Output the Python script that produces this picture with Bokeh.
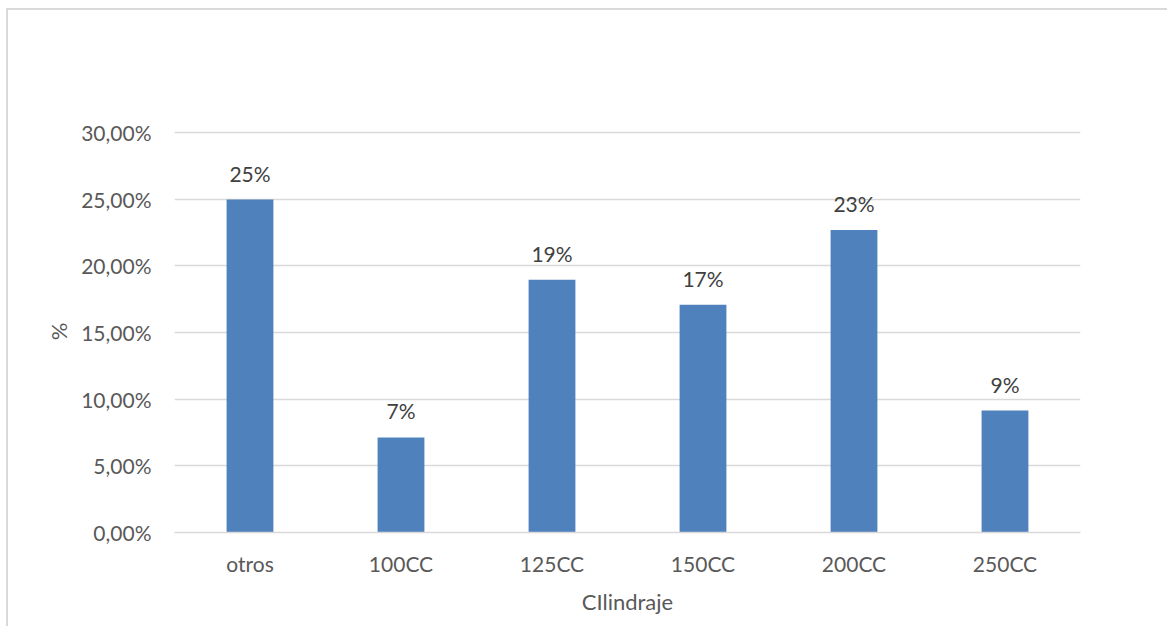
from bokeh.plotting import figure
from bokeh.models import ColumnDataSource, LabelSet, Range1d, FactorRange, CustomJSTickFormatter
from bokeh.core.properties import value
from bokeh.embed import file_html
from bokeh.resources import INLINE

# Share of motorcycles by engine displacement
categories = ["otros", "100CC", "125CC", "150CC", "200CC", "250CC"]
shares = [0.2497, 0.0713, 0.1896, 0.1709, 0.2268, 0.0915]
y_ticks = [0.0, 0.05, 0.10, 0.15, 0.20, 0.25, 0.30]

bar_labels = [f"{round(v * 100)}%" for v in shares]
source = ColumnDataSource(dict(cat=categories, share=shares, label=bar_labels))

FONT = "Lato"
TICK_COLOR = "#595959"
GRID_COLOR = "#d9d9d9"

# range top slightly above 30% so the top gridline stays visible
p = figure(
    x_range=FactorRange(*categories, range_padding=0),
    y_range=Range1d(0, 0.3015),
    width=1161, height=618, margin=(8, 0, 0, 6),
    min_border_left=166, min_border_right=89,
    min_border_top=120, min_border_bottom=96,
    output_backend="svg", toolbar_location=None,
    background_fill_color="white", border_fill_color="white",
)
p.styles = {
    "border-top": f"2px solid {GRID_COLOR}",
    "border-left": f"2px solid {GRID_COLOR}",
}
p.outline_line_color = None

p.vbar(x="cat", top="share", width=0.31, source=source,
       fill_color="#4f81bd", line_color=None)

p.add_layout(LabelSet(
    x="cat", y="share", text="label", source=source,
    text_align="center", text_baseline="alphabetic", y_offset=18,
    text_font=value(FONT), text_font_size="21px", text_color="#404040",
))

# grid
p.xgrid.grid_line_color = None
p.ygrid.grid_line_color = GRID_COLOR
p.ygrid.grid_line_width = 1.5

# y axis
p.yaxis.ticker = y_ticks
p.yaxis.formatter = CustomJSTickFormatter(
    code="return (tick * 100).toFixed(2).replace('.', ',') + '%';")
p.yaxis.axis_label = "%"
p.yaxis.axis_line_color = None
p.yaxis.major_tick_in = 0
p.yaxis.major_tick_out = 0
p.yaxis.minor_tick_in = 0
p.yaxis.minor_tick_out = 0
p.yaxis.major_label_standoff = 23
p.yaxis.axis_label_standoff = 6

# x axis
p.xaxis.axis_label = "CIlindraje"
p.xaxis.axis_line_color = GRID_COLOR
p.xaxis.axis_line_width = 1.5
p.xaxis.major_tick_in = 0
p.xaxis.major_tick_out = 0
p.xaxis.minor_tick_in = 0
p.xaxis.minor_tick_out = 0
p.xaxis.major_label_standoff = 18
p.xaxis.axis_label_standoff = 9

for ax in (p.xaxis, p.yaxis):
    ax.major_label_text_font = FONT
    ax.major_label_text_font_size = "21px"
    ax.major_label_text_color = TICK_COLOR
    ax.axis_label_text_font = FONT
    ax.axis_label_text_font_size = "22px"
    ax.axis_label_text_font_style = "normal"
    ax.axis_label_text_color = TICK_COLOR

open("out.html", "w").write(file_html(p, INLINE))
